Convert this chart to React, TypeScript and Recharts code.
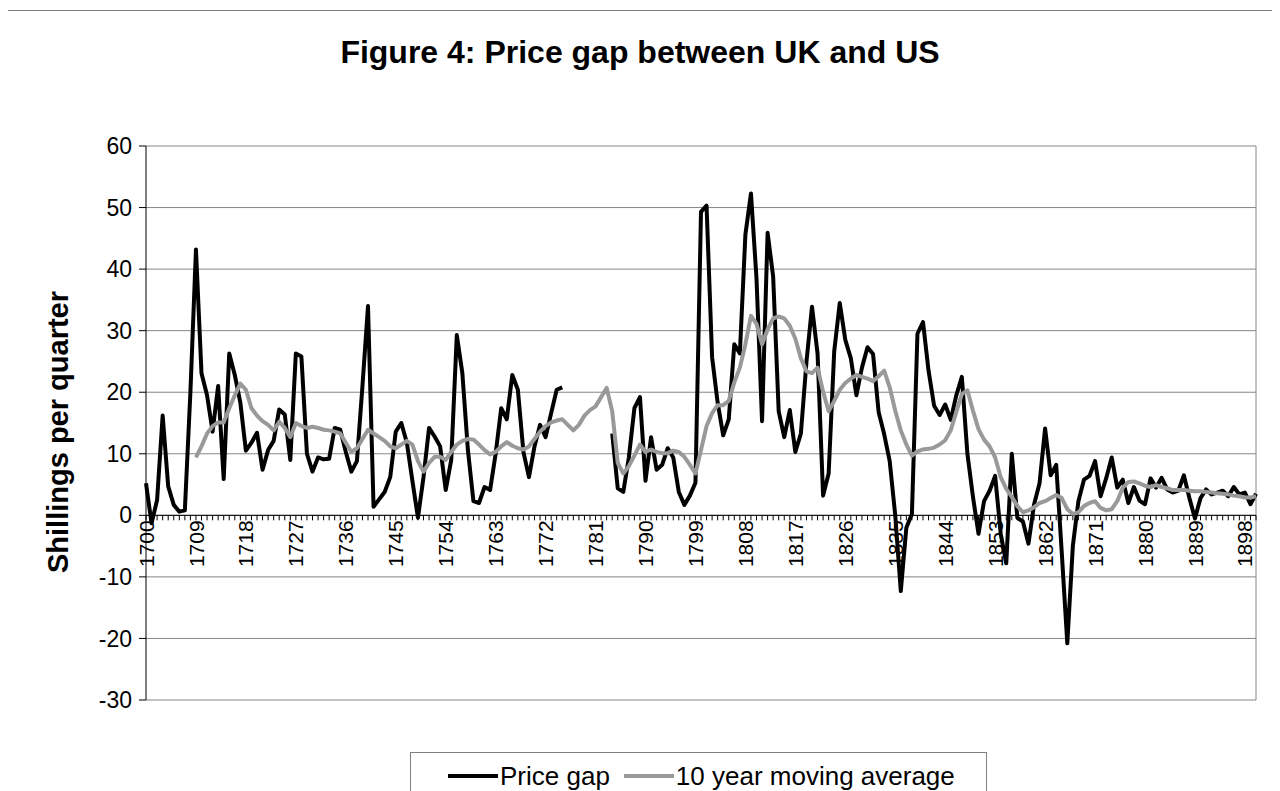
import React from 'react';
import { LineChart, Line, XAxis, YAxis, CartesianGrid, ReferenceLine, Legend } from 'recharts';

const FONT = '"Liberation Sans", Arial, sans-serif';

// Categories
const START_YEAR = 1700;
const years: number[] = Array.from({ length: 201 }, (_, i) => START_YEAR + i);
const xTickYears = [1700, 1709, 1718, 1727, 1736, 1745, 1754, 1763, 1772, 1781, 1790, 1799, 1808, 1817, 1826, 1835, 1844, 1853, 1862, 1871, 1880, 1889, 1898];
const yTicks = [-30, -20, -10, 0, 10, 20, 30, 40, 50, 60];
const Y_MIN = -30;
const Y_MAX = 60;
const seriesNames = ['Price gap', '10 year moving average'];

// Price gap, 1700-1900 (null = no data)
const priceGap: (number | null)[] = [
  5.2, -1.3, 2.5, 16.2, 4.7, 1.7, 0.6, 0.8, 20, 43.2,          // 1700-1709
  23.1, 19.5, 13.6, 21, 5.9, 26.3, 22.8, 18.3, 10.5, 11.8,      // 1710-1719
  13.4, 7.4, 10.6, 12.1, 17.2, 16.4, 9.0, 26.3, 25.8, 10,       // 1720-1729
  7.1, 9.4, 9.1, 9.2, 14.2, 13.9, 10.3, 7.1, 8.8, 21,           // 1730-1739
  34, 1.4, 2.6, 3.8, 6.2, 13.6, 15, 11.8, 5.6, -0.4,            // 1740-1749
  6.2, 14.2, 12.8, 11.2, 4.1, 9, 29.3, 23.1, 10.6, 2.3,         // 1750-1759
  2, 4.6, 4.1, 10, 17.4, 15.6, 22.8, 20.4, 10.3, 6.2,           // 1760-1769
  11.2, 14.7, 12.7, 16.6, 20.4, 20.8, null, null, null, null,   // 1770-1779
  null, null, null, null, 13.3, 4.4, 3.8, 9.4, 17.4, 19.2,      // 1780-1789
  5.6, 12.7, 7.4, 8.2, 10.9, 9.4, 3.8, 1.7, 3.2, 5.3,           // 1790-1799
  49.3, 50.3, 25.7, 18.3, 13, 15.6, 27.8, 26.3, 45.6, 52.3,     // 1800-1809
  38.5, 15.3, 45.9, 38.8, 16.9, 12.7, 17.1, 10.3, 13.3, 24.9,   // 1810-1819
  33.9, 26.3, 3.2, 6.8, 26.6, 34.5, 28.5, 25.5, 19.5, 24,       // 1820-1829
  27.3, 26.2, 16.8, 13.2, 8.8, 0, -12.3, -2, 0.2, 29.5,         // 1830-1839
  31.4, 23.5, 17.8, 16.3, 18, 15.5, 19.5, 22.5, 10, 3,          // 1840-1849
  -3, 2.3, 4, 6.4, -3, -7.8, 10, -0.4, -1, -4.6,                // 1850-1859
  1.7, 5.2, 14.1, 6.5, 8.2, -6, -20.8, -5, 2.3, 5.8,            // 1860-1869
  6.4, 8.8, 3.1, 6, 9.4, 4.5, 5.8, 2, 4.6, 2.4,                 // 1870-1879
  1.8, 6, 4.5, 6.1, 4.2, 3.7, 4, 6.5, 2.8, -0.5,                // 1880-1889
  2.8, 4.2, 3.4, 3.7, 4, 3.1, 4.6, 3.4, 3.7, 1.8,               // 1890-1899
  3.5,                                                           // 1900
];

// 10 year moving average, 1700-1900
const movingAvg: (number | null)[] = [
  null, null, null, null, null, null, null, null, null, 9.4,    // 1700-1709
  11.2, 13.3, 14.5, 15.1, 15.1, 17.4, 19.5, 21.4, 20.4, 17.4,   // 1710-1719
  16.2, 15.3, 14.7, 13.8, 15.2, 14.2, 12.7, 15, 14.5, 14.2,     // 1720-1729
  14.4, 14.2, 13.9, 13.8, 13.6, 13.3, 11.8, 10.3, 10.9, 12.4,   // 1730-1739
  13.9, 13.3, 12.7, 12.1, 11.2, 10.9, 11.5, 12.1, 11.5, 8.8,    // 1740-1749
  7.1, 8.5, 9.5, 9.5, 9, 10.3, 11.5, 12.1, 12.4, 12.3,          // 1750-1759
  11.5, 10.6, 9.9, 10.3, 11.2, 11.9, 11.3, 10.9, 10.7, 11.2,    // 1760-1769
  12.4, 13.6, 14.5, 15.1, 15.4, 15.6, 14.7, 13.8, 14.7, 16.2,   // 1770-1779
  17.1, 17.7, 19.2, 20.7, 16.9, 8.5, 6.8, 8, 9.7, 11.5,         // 1780-1789
  10.3, 10.7, 10.3, 10.1, 10.1, 10.5, 10.3, 9.5, 8.2, 6.8,      // 1790-1799
  10.6, 14.5, 16.6, 17.9, 17.9, 18.6, 21.6, 24, 27.8, 32.4,     // 1800-1809
  31.1, 27.8, 30.2, 32, 32.3, 32, 30.8, 28.7, 25.5, 23.4,       // 1810-1819
  23.1, 24, 20.1, 16.9, 18.6, 20.4, 21.5, 22.2, 22.8, 22.5,     // 1820-1829
  22.2, 21.8, 22.6, 23.5, 20.8, 17, 13.8, 11.5, 9.7, 10.4,      // 1830-1839
  10.7, 10.8, 11, 11.5, 12.2, 13.8, 16.8, 19.7, 20.3, 17,       // 1840-1849
  14, 12.3, 11.2, 9.4, 6.2, 4.3, 3, 1.5, 0.5, 0.8,              // 1850-1859
  1.3, 2, 2.3, 2.8, 3.3, 2.8, 1, 0.2, 0.5, 1.5,                 // 1860-1869
  2, 2.3, 1.2, 0.8, 1, 2.3, 4.5, 5.4, 5.5, 5.2,                 // 1870-1879
  4.8, 4.6, 4.9, 4.6, 4.4, 4.1, 4.1, 4.1, 4, 3.9,               // 1880-1889
  3.9, 3.8, 3.7, 3.6, 3.5, 3.4, 3.2, 3.1, 2.9, 2.9,             // 1890-1899
  3.1,                                                           // 1900
];

const rows = years.map((year, i) => ({ year, gap: priceGap[i], ma: movingAvg[i] }));

// Layout
const W = 1280;
const H = 791;
const M_TOP = 146;
const M_RIGHT = 24;
const Y_AXIS_W = 60;
const M_LEFT = 146 - Y_AXIS_W;
const X_AXIS_H = 30;
const M_BOTTOM = 91 - X_AXIS_H;
const PLOT_H = H - M_TOP - M_BOTTOM - X_AXIS_H;

const XTick = (props: any) => {
  const { x, y, payload } = props;
  const zeroY = y - (PLOT_H * (0 - Y_MIN)) / (Y_MAX - Y_MIN);
  const showLabel = xTickYears.includes(payload.value);
  const ly = zeroY + 5;
  return (
    <g>
      <line x1={x} x2={x} y1={zeroY} y2={zeroY + 5} stroke="#000" strokeWidth={1} />
      {showLabel && (
        <text
          x={x}
          y={ly}
          transform={`rotate(-90 ${x} ${ly})`}
          textAnchor="end"
          dy="0.36em"
          fontSize={21}
          fontFamily={FONT}
          fill="#000"
        >
          {payload.value}
        </text>
      )}
    </g>
  );
};

const LegendBox = (props: any) => {
  const items = [...(props.payload || [])].sort(
    (a: any, b: any) => seriesNames.indexOf(a.value) - seriesNames.indexOf(b.value)
  );
  return (
    <div
      style={{
        width: 577,
        height: 60,
        border: '1px solid #808080',
        boxSizing: 'border-box',
        background: '#fff',
        display: 'flex',
        alignItems: 'flex-start',
        paddingLeft: 37,
        paddingTop: 8,
        fontFamily: FONT,
        fontSize: 26,
        color: '#000',
      }}
    >
      {items.map((entry: any, i: number) => (
        <div key={i} style={{ display: 'flex', alignItems: 'center', marginRight: 14, height: 30 }}>
          <span style={{ display: 'inline-block', width: 50, height: 4, background: entry.color, marginRight: 2 }} />
          <span style={{ whiteSpace: 'nowrap' }}>{entry.value}</span>
        </div>
      ))}
    </div>
  );
};

export default function App() {
  return (
    <div
      style={{
        position: 'relative',
        left: -8,
        top: -8,
        width: W,
        height: H,
        background: '#fff',
        overflow: 'hidden',
        fontFamily: FONT,
      }}
    >
      <div
        style={{
          position: 'absolute',
          left: 0,
          top: 32,
          width: W,
          textAlign: 'center',
          fontSize: 32,
          fontWeight: 'bold',
          color: '#000',
          lineHeight: '40px',
        }}
      >
        Figure 4: Price gap between UK and US
      </div>
      <div
        style={{
          position: 'absolute',
          left: 58,
          top: 432,
          transform: 'translate(-50%, -50%) rotate(-90deg)',
          fontSize: 29,
          fontWeight: 'bold',
          whiteSpace: 'nowrap',
          color: '#000',
        }}
      >
        Shillings per quarter
      </div>
      <div style={{ position: 'absolute', left: 0, top: 0 }}>
        <LineChart
          width={W}
          height={H}
          data={rows}
          margin={{ top: M_TOP, right: M_RIGHT, left: M_LEFT, bottom: M_BOTTOM }}
        >
          <CartesianGrid vertical={false} stroke="#868686" strokeWidth={1} />
          <XAxis
            dataKey="year"
            type="category"
            interval={0}
            tickSize={0}
            tickMargin={0}
            axisLine={false}
            tickLine={false}
            height={X_AXIS_H}
            tick={<XTick />}
          />
          <YAxis
            type="number"
            domain={[Y_MIN, Y_MAX]}
            ticks={yTicks}
            interval={0}
            width={Y_AXIS_W}
            tickSize={7}
            tickMargin={7}
            axisLine={{ stroke: '#000' }}
            tickLine={{ stroke: '#000' }}
            tick={{ fontSize: 23, fill: '#000', fontFamily: FONT }}
            allowDataOverflow
          />
          <ReferenceLine x={years[years.length - 1]} stroke="#868686" strokeWidth={1} />
          <ReferenceLine y={0} stroke="#000" strokeWidth={1} />
          <Line
            dataKey="gap"
            name={seriesNames[0]}
            stroke="#000"
            strokeWidth={4}
            dot={false}
            activeDot={false}
            strokeLinejoin="round"
            isAnimationActive={false}
          />
          <Line
            dataKey="ma"
            name={seriesNames[1]}
            stroke="#999999"
            strokeWidth={4}
            dot={false}
            activeDot={false}
            strokeLinejoin="round"
            isAnimationActive={false}
          />
          <Legend
            layout="vertical"
            verticalAlign="middle"
            align="center"
            wrapperStyle={{ left: 410, top: 752, width: 577, height: 60 }}
            content={<LegendBox />}
          />
        </LineChart>
      </div>
      <div
        style={{
          position: 'absolute',
          left: 7,
          top: 10,
          width: 1266,
          height: 820,
          border: '1px solid #808080',
          boxSizing: 'border-box',
          pointerEvents: 'none',
        }}
      />
    </div>
  );
}
